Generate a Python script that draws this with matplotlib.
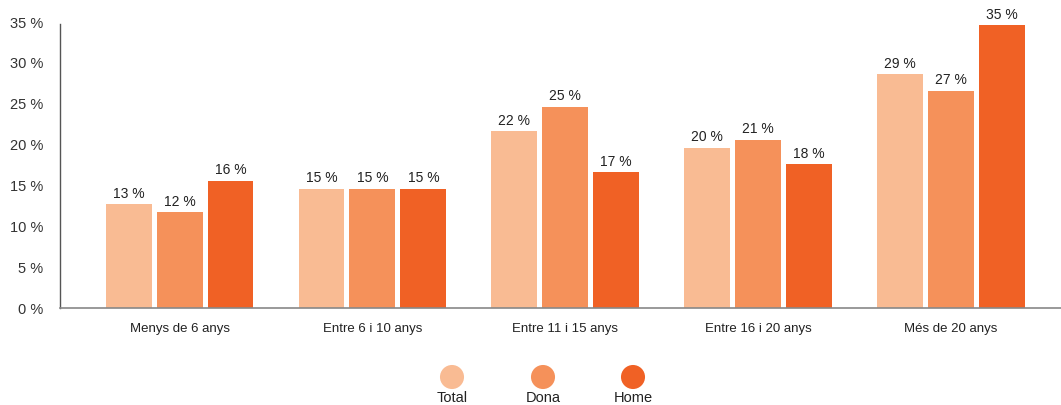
import matplotlib
matplotlib.use("Agg")
import matplotlib.pyplot as plt
import matplotlib.transforms as mtransforms
import numpy as np

plt.rcParams['font.family'] = ['Liberation Sans', 'DejaVu Sans']

categories = ["Menys de 6 anys", "Entre 6 i 10 anys", "Entre 11 i 15 anys", "Entre 16 i 20 anys", "Més de 20 anys"]
series = ["Total", "Dona", "Home"]
total = [12.7, 14.6, 21.6, 19.6, 28.6]
dona = [11.7, 14.6, 24.6, 20.6, 26.6]
home = [15.6, 14.6, 16.6, 17.6, 34.6]
yticks = [0, 5, 10, 15, 20, 25, 30, 35]
colors = ["#F9BB93", "#F5915A", "#F06125"]

fig = plt.figure(figsize=(10.61, 4.05), dpi=100)
ax = fig.add_axes([60/1061, 97/405, 1 - 60/1061, (308-22)/405])

x = np.arange(len(categories))
width = 0.238
offset = 0.264
for i, (vals, c) in enumerate(zip([total, dona, home], colors)):
    pos = x + (i - 1) * offset
    bars = ax.bar(pos, vals, width=width, color=c, zorder=2)
    for b, v in zip(bars, vals):
        ax.text(b.get_x() + b.get_width()/2, v + 0.45, f"{round(v):d} %",
                ha='center', va='bottom', fontsize=10, color='#222222')

ax.set_xlim(-0.62, 4.57)
ax.set_ylim(0, 35)
ax.set_yticks(yticks)
ax.set_yticklabels([f"{t} %" for t in yticks], fontsize=10.5, color='#333333')
shift = mtransforms.ScaledTranslation(0, 3/100, fig.dpi_scale_trans)
for lbl in ax.get_yticklabels():
    lbl.set_va('center_baseline')
    lbl.set_transform(lbl.get_transform() + shift)
ax.set_xticks(x)
ax.set_xticklabels(categories, fontsize=9.5, color='#222222')
ax.tick_params(axis='y', length=0, pad=12)
ax.tick_params(axis='x', length=0, pad=11)
for s in ['top', 'right']:
    ax.spines[s].set_visible(False)
ax.spines['left'].set_color('#555555')
ax.spines['left'].set_linewidth(1.0)
ax.spines['bottom'].set_color('#888888')
ax.spines['bottom'].set_linewidth(1.2)
ax.spines['left'].set_bounds(0, 34.7)

# legend
lax = fig.add_axes([0, 0, 1, 50/405])
lax.set_xlim(0, 1061)
lax.set_ylim(50, 0)
lax.axis('off')
lx = [452, 543, 633]
for name, c, px in zip(series, colors, lx):
    lax.scatter([px], [22], s=300, color=c, edgecolors='none')
    lax.text(px, 43, name, ha='center', va='center', fontsize=10.5, color='#222222')

fig.savefig("out.png", dpi=100)
